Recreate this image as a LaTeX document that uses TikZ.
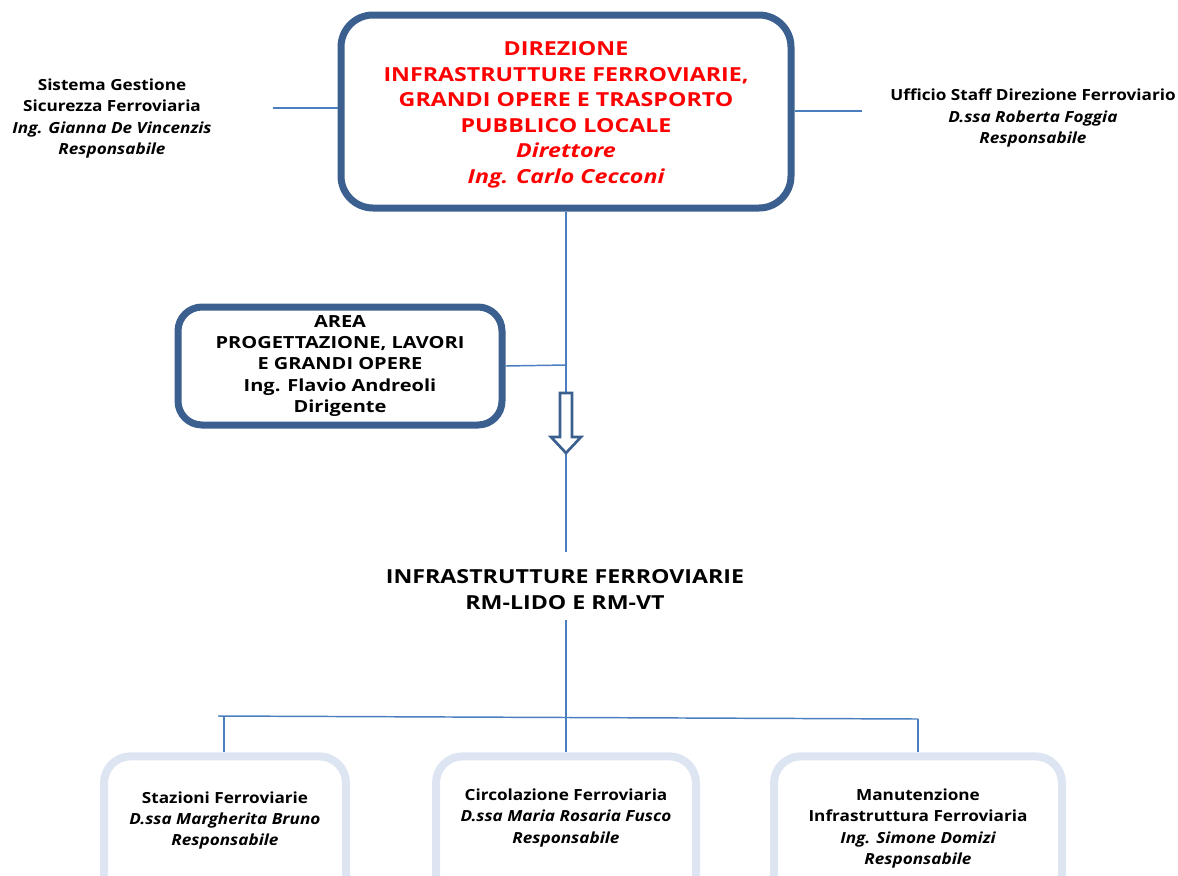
\documentclass[tikz,border=0pt]{standalone}
\usepackage{fontspec}
\setmainfont[FakeStretch=1.12]{Open Sans}
\newfontfamily\widefont[FakeStretch=1.2]{Open Sans}
\definecolor{boxblue}{HTML}{3B5F8E}
\definecolor{linkblue}{HTML}{4A7EBE}
\definecolor{paleblue}{HTML}{DCE5F1}
\definecolor{dirred}{HTML}{FF0000}
\begin{document}
\begin{tikzpicture}[x=0.75pt,y=-0.75pt,
    link/.style={draw=linkblue,line width=1.1pt},
    darkbox/.style={draw=boxblue,line width=5.25pt,fill=white,align=center,inner sep=0pt},
    palebox/.style={draw=paleblue,line width=6pt,rounded corners=20pt,inner sep=0pt},
    label/.style={align=center,font=\fontsize{11.5}{16}\selectfont\bfseries}]
  \useasboundingbox (0,0) rectangle (1178,875);
  \clip (0,0) rectangle (1178,875);
  % top
  \draw
    (566,111.5) node[darkbox,rounded corners=24pt,minimum width=337.5pt,minimum height=144.75pt,
      text=dirred,font=\widefont\fontsize{14.5}{19.1}\selectfont\bfseries] (dir)
      {\\[-3.5pt]DIREZIONE\\INFRASTRUTTURE FERROVIARIE,\\GRANDI OPERE E TRASPORTO\\PUBBLICO LOCALE\\
       \itshape Direttore\\\itshape Ing. Carlo Cecconi}
    (112,118.5) node[label] (sgsf)
      {Sistema Gestione\\Sicurezza Ferroviaria\\\itshape Ing. Gianna De Vincenzis\\\itshape Responsabile}
    (1033,118) node[label] (staff)
      {Ufficio Staff Direzione Ferroviario\\\itshape D.ssa Roberta Foggia\\\itshape Responsabile}
    (340,366) node[darkbox,rounded corners=18pt,minimum width=243pt,minimum height=88.5pt,
      font=\widefont\fontsize{12.5}{16}\selectfont\bfseries] (area)
      {AREA\\PROGETTAZIONE, LAVORI\\E GRANDI OPERE\\Ing. Flavio Andreoli\\Dirigente}
    (565,590) node[align=center,font=\widefont\fontsize{14.5}{19.5}\selectfont\bfseries] (infra)
      {INFRASTRUTTURE FERROVIARIE\\RM-LIDO E RM-VT};
  \coordinate (sgsfend) at (273,108);
  \coordinate (staffend) at (862,111);
  \coordinate (areajoin) at (566,365);
  \coordinate (arrtop) at (566,393);
  \coordinate (arrtip) at (566,453);
  \coordinate (infratop) at (566,552);
  \coordinate (infrabot) at (566,620);
  % bottom
  \draw
    (225,831) node[palebox,minimum width=181.5pt,minimum height=112pt] (stazbox) {}
    (566,831) node[palebox,minimum width=195pt,minimum height=112pt] (circbox) {}
    (918,831) node[palebox,minimum width=216pt,minimum height=112pt] (manutbox) {}
    (225,820.5) node[label] (staz)
      {Stazioni Ferroviarie\\\itshape D.ssa Margherita Bruno\\\itshape Responsabile}
    (566,818) node[label] (circ)
      {Circolazione Ferroviaria\\\itshape D.ssa Maria Rosaria Fusco\\\itshape Responsabile}
    (918,828.5) node[label] (manut)
      {Manutenzione\\Infrastruttura Ferroviaria\\\itshape Ing. Simone Domizi\\\itshape Responsabile};
  \coordinate (busL) at (218,716);
  \coordinate (busR) at (918,719);
  \coordinate (bus1) at (224,716.2);
  \begin{scope}[link]
    \draw (sgsfend) -- (dir.west |- sgsfend);
    \draw (dir.east |- staffend) -- (staffend);
    \draw (dir.south) -- (arrtop);
    \draw (area.east) -- (areajoin);
    \draw (arrtip) -- (infratop);
    \draw (infrabot) -- (circbox.north);
    \draw (busL) -- (busR);
    \draw (bus1) -- (bus1 |- stazbox.north);
    \draw (busR) -- (manutbox.north);
  \end{scope}
  % hollow arrow
  \draw[boxblue,line width=2pt,fill=white,line join=miter]
    (560,393) -- (572,393) -- (572,437) -- (581,437) -- (arrtip)
    -- (551,437) -- (560,437) -- cycle;
\end{tikzpicture}
\end{document}
